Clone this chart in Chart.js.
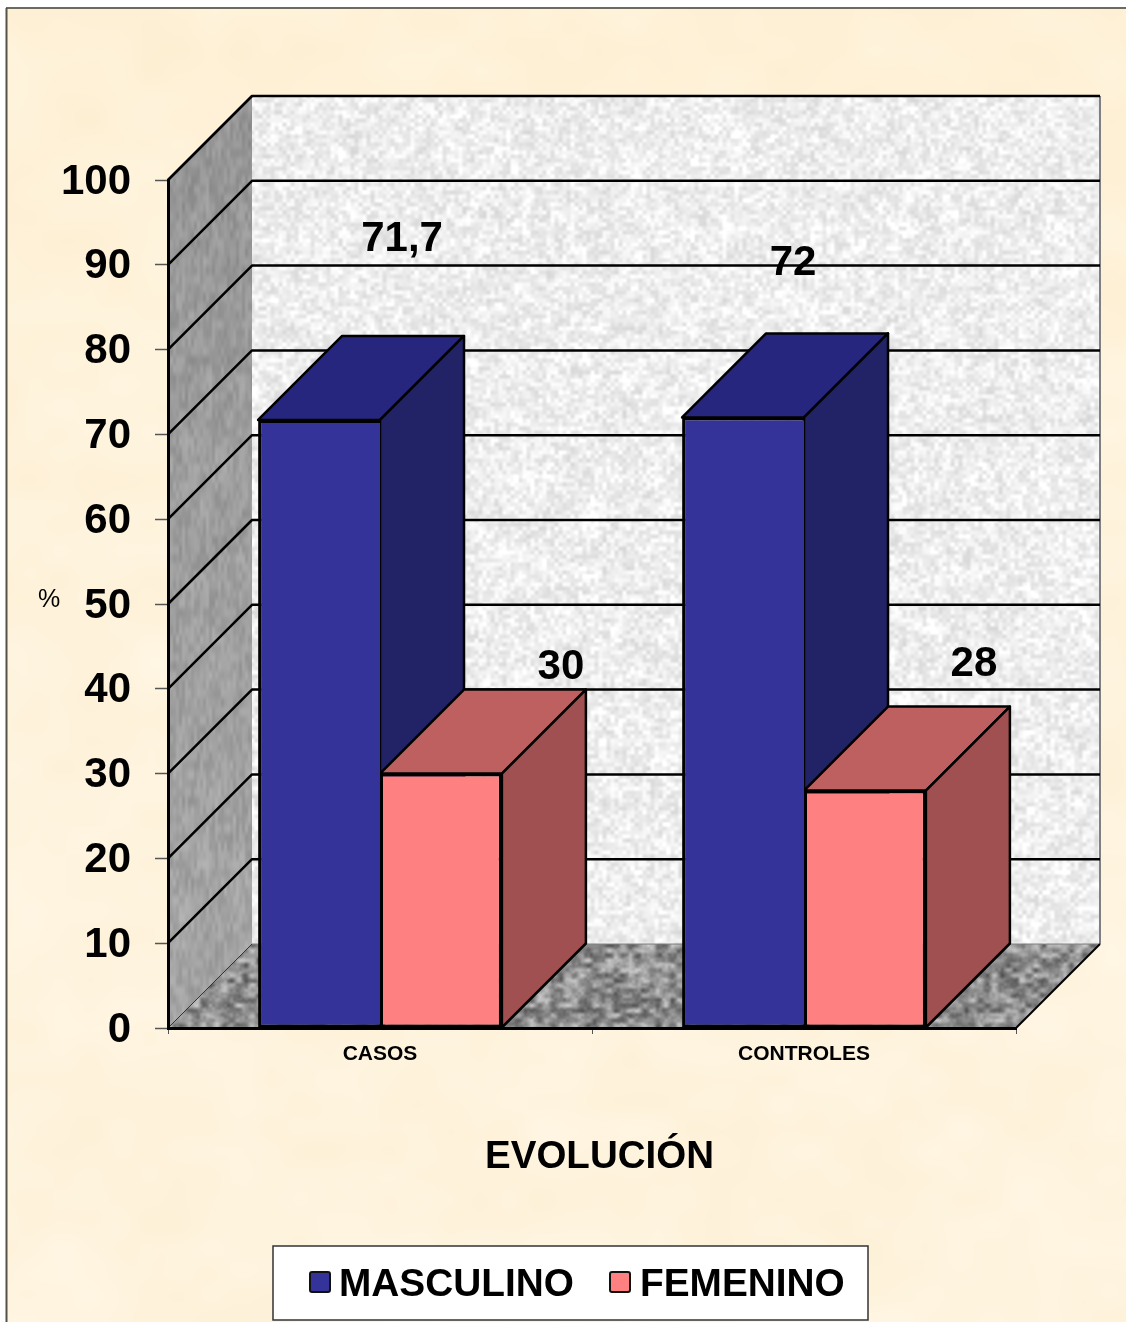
<!DOCTYPE html>
<html>
<head>
<meta charset="utf-8">
<title>Evolución</title>
<script src="https://cdn.jsdelivr.net/npm/chart.js@4"></script>
<style>
    html, body { margin: 0; padding: 0; background: #fff; }
    canvas { display: block; }
</style>
</head>
<body>
<canvas id="evolucionChart" width="1126" height="1322"></canvas>
<script>
const categories = ['CASOS', 'CONTROLES'];
const masculino = [71.7, 72];
const femenino = [30, 28];
const yTicks = [0, 10, 20, 30, 40, 50, 60, 70, 80, 90, 100];

const FONT = '"Liberation Sans", Arial, sans-serif';
const DEPTH = 84; // 3D offset of the back wall, in pixels

// Faces of each series: front, top, side
const maleColors = { front: '#333399', top: '#26267f', side: '#222266' };
const femaleColors = { front: '#ff8080', top: '#bf6060', side: '#a05050' };

// Where each value label sits relative to the top of its bar
const labelOffsets = [
    [{ x: 83, y: -181 }, { x: 50, y: -154 }],
    [{ x: 120, y: -106 }, { x: 109, y: -126 }]
];

// Small seeded generator, only used for the surface textures
let textureSeed = 20240;
function nextRandom() {
    textureSeed = (textureSeed * 1664525 + 1013904223) >>> 0;
    return textureSeed / 4294967296;
}

// Smooth value noise sampled on a grid of cw x ch pixel cells
function noiseLayer(w, h, cw, ch) {
    const cols = Math.ceil(w / cw) + 2;
    const rows = Math.ceil(h / ch) + 2;
    const grid = new Float32Array(cols * rows);
    for (let i = 0; i < grid.length; i++) grid[i] = nextRandom() * 2 - 1;
    const smooth = t => t * t * (3 - 2 * t);
    return (x, y) => {
        const gx = x / cw, gy = y / ch;
        const ix = Math.floor(gx), iy = Math.floor(gy);
        const fx = smooth(gx - ix), fy = smooth(gy - iy);
        const a = grid[iy * cols + ix], b = grid[iy * cols + ix + 1];
        const c = grid[(iy + 1) * cols + ix], d = grid[(iy + 1) * cols + ix + 1];
        return (a + (b - a) * fx) * (1 - fy) + (c + (d - c) * fx) * fy;
    };
}

// Builds an offscreen canvas; colorAt receives position and returns [r, g, b]
function makeTexture(w, h, colorAt) {
    const c = document.createElement('canvas');
    c.width = w;
    c.height = h;
    const tctx = c.getContext('2d');
    const img = tctx.createImageData(w, h);
    for (let y = 0; y < h; y++) {
        for (let x = 0; x < w; x++) {
            const rgb = colorAt(x, y);
            const p = (y * w + x) * 4;
            img.data[p] = rgb[0];
            img.data[p + 1] = rgb[1];
            img.data[p + 2] = rgb[2];
            img.data[p + 3] = 255;
        }
    }
    tctx.putImageData(img, 0, 0);
    return c;
}

function paperTexture(w, h) {
    const big = noiseLayer(w, h, 80, 60);
    const mid = noiseLayer(w, h, 30, 24);
    return makeTexture(w, h, (x, y) => {
        const n = big(x, y) * 0.6 + mid(x, y) * 0.4;
        const warm = Math.max(0, 1 - y / 700); // slightly deeper yellow towards the top
        return [254 + n, 243 + n * 3 - warm * 2, 221 + n * 7 - warm * 6];
    });
}

function backWallTexture(w, h) {
    const a = noiseLayer(w, h, 4, 4);
    const b = noiseLayer(w, h, 11, 10);
    return makeTexture(w, h, (x, y) => {
        const n = a(x, y) * 0.7 + b(x, y) * 0.3;
        const v = 238 + n * 25;
        return [v, v, v];
    });
}

function sideWallTexture(w, h) {
    const a = noiseLayer(w, h, 3, 9);
    const b = noiseLayer(w, h, 12, 20);
    return makeTexture(w, h, (x, y) => {
        const v = 148 + y / h * 22 + a(x, y) * 12 + b(x, y) * 6;
        return [v, v, v];
    });
}

function floorTexture(w, h) {
    const a = noiseLayer(w, h, 7, 5);
    const b = noiseLayer(w, h, 3, 3);
    return makeTexture(w, h, (x, y) => {
        const v = 142 + a(x, y) * 50 + b(x, y) * 14;
        return [v, v, v];
    });
}

function polygon(ctx, points) {
    ctx.beginPath();
    points.forEach((p, i) => i ? ctx.lineTo(p[0], p[1]) : ctx.moveTo(p[0], p[1]));
    ctx.closePath();
}

function fillClipped(ctx, points, image) {
    ctx.save();
    polygon(ctx, points);
    ctx.clip();
    ctx.drawImage(image, 0, 0);
    ctx.restore();
}

function line(ctx, x1, y1, x2, y2, color, width) {
    ctx.strokeStyle = color;
    ctx.lineWidth = width;
    ctx.beginPath();
    ctx.moveTo(x1, y1);
    ctx.lineTo(x2, y2);
    ctx.stroke();
}

const paperImage = paperTexture(1126, 1322);
const wallImage = backWallTexture(1126, 1322);
const sideImage = sideWallTexture(1126, 1322);
const floorImage = floorTexture(1126, 1322);

// Page background, walls, floor and gridlines
const roomPlugin = {
    id: 'room',
    beforeDraw(chart) {
        const { ctx, chartArea: { left, right, top, bottom }, scales: { y } } = chart;
        ctx.save();
        ctx.fillStyle = '#ffffff';
        ctx.fillRect(0, 0, chart.width, chart.height);
        ctx.drawImage(paperImage, 7, 9, chart.width - 7, chart.height - 9, 7, 9, chart.width - 7, chart.height - 9);
        line(ctx, 6, 8, chart.width, 8, '#6e6a60', 2);
        line(ctx, 6.5, 8, 6.5, chart.height, '#55524a', 2);

        const backTop = top - DEPTH, backBottom = bottom - DEPTH;
        const backLeft = left + DEPTH, backRight = right + DEPTH;
        fillClipped(ctx, [[backLeft, backTop], [backRight, backTop], [backRight, backBottom], [backLeft, backBottom]], wallImage);
        fillClipped(ctx, [[left, top], [backLeft, backTop], [backLeft, backBottom], [left, bottom]], sideImage);
        fillClipped(ctx, [[left, bottom], [backLeft, backBottom], [backRight, backBottom], [right, bottom]], floorImage);

        line(ctx, backRight, backTop, backRight, backBottom, '#808080', 2);
        line(ctx, backLeft, backBottom, backRight, backBottom, '#808080', 1);
        line(ctx, left, bottom, backLeft, backBottom, '#333333', 1);
        line(ctx, right, bottom, backRight, backBottom, '#000000', 2);
        line(ctx, left, top, backLeft, backTop, '#222222', 2);

        yTicks.filter(v => v > 0).forEach(v => {
            const py = y.getPixelForValue(v);
            ctx.lineJoin = 'round';
            ctx.strokeStyle = '#000000';
            ctx.lineWidth = 2.5;
            ctx.beginPath();
            ctx.moveTo(left, py);
            ctx.lineTo(backLeft, py - DEPTH);
            ctx.lineTo(backRight, py - DEPTH);
            ctx.stroke();
        });
        ctx.restore();
    },
    // Top and side faces go under the flat bars that Chart.js draws
    beforeDatasetsDraw(chart) {
        const { ctx } = chart;
        ctx.save();
        ctx.lineWidth = 2.5;
        ctx.strokeStyle = '#000000';
        ctx.lineJoin = 'round';
        chart.data.datasets.forEach((ds, i) => {
            chart.getDatasetMeta(i).data.forEach(bar => {
                const x1 = bar.x - bar.width / 2, x2 = bar.x + bar.width / 2;
                polygon(ctx, [[x1, bar.y], [x1 + DEPTH, bar.y - DEPTH], [x2 + DEPTH, bar.y - DEPTH], [x2, bar.y]]);
                ctx.fillStyle = ds.faces.top;
                ctx.fill();
                ctx.stroke();
                polygon(ctx, [[x2, bar.y], [x2 + DEPTH, bar.y - DEPTH], [x2 + DEPTH, bar.base - DEPTH], [x2, bar.base]]);
                ctx.fillStyle = ds.faces.side;
                ctx.fill();
                ctx.stroke();
            });
        });
        ctx.restore();
    },
    afterDatasetsDraw(chart) {
        const { ctx } = chart;
        ctx.save();
        ctx.fillStyle = '#000000';
        ctx.font = 'bold 42px ' + FONT;
        ctx.textAlign = 'center';
        ctx.textBaseline = 'middle';
        chart.data.datasets.forEach((ds, i) => {
            chart.getDatasetMeta(i).data.forEach((bar, j) => {
                const off = labelOffsets[i][j];
                ctx.fillText(String(ds.data[j]).replace('.', ','), bar.x + off.x, bar.y + off.y);
            });
        });
        ctx.restore();
    }
};

// Axis captions and the boxed legend
const captionsPlugin = {
    id: 'captions',
    afterDraw(chart) {
        const { ctx } = chart;
        ctx.save();
        ctx.fillStyle = '#000000';
        ctx.textBaseline = 'middle';
        ctx.textAlign = 'center';
        ctx.font = '25px ' + FONT;
        ctx.fillText('%', 49, 600);
        ctx.font = 'bold 38.5px ' + FONT;
        ctx.fillText('EVOLUCIÓN', 599.5, 1157);

        ctx.fillStyle = '#ffffff';
        ctx.fillRect(273, 1246, 595, 74);
        ctx.strokeStyle = '#333333';
        ctx.lineWidth = 1.5;
        ctx.strokeRect(273, 1246, 595, 74);

        const entries = [{ box: 310, text: 339 }, { box: 610, text: 640 }];
        ctx.textAlign = 'left';
        ctx.font = 'bold 38.8px ' + FONT;
        chart.data.datasets.forEach((ds, i) => {
            ctx.fillStyle = ds.faces.front;
            ctx.strokeStyle = '#111111';
            ctx.lineWidth = 2;
            ctx.beginPath();
            ctx.roundRect(entries[i].box, 1272, 20, 20, 2);
            ctx.fill();
            ctx.stroke();
            ctx.fillStyle = '#000000';
            ctx.fillText(ds.label, entries[i].text, 1285);
        });
        ctx.restore();
    }
};

new Chart(document.getElementById('evolucionChart').getContext('2d'), {
    type: 'bar',
    data: {
        labels: categories,
        datasets: [
            {
                label: 'MASCULINO',
                data: masculino,
                faces: maleColors,
                backgroundColor: maleColors.front,
                borderColor: '#000000',
                borderWidth: 3,
                borderSkipped: 'right' // the shared edge comes from the neighbouring bar
            },
            {
                label: 'FEMENINO',
                data: femenino,
                faces: femaleColors,
                backgroundColor: femaleColors.front,
                borderColor: '#000000',
                borderWidth: 3,
                borderSkipped: false
            }
        ]
    },
    options: {
        responsive: false,
        animation: false,
        devicePixelRatio: 1,
        layout: { padding: { left: 0, right: 110, top: 180, bottom: 0 } },
        datasets: { bar: { categoryPercentage: 0.575, barPercentage: 1 } },
        plugins: {
            legend: { display: false },
            tooltip: { enabled: false }
        },
        scales: {
            x: {
                afterFit: scale => { scale.height = 294; },
                grid: { drawOnChartArea: false, drawTicks: true, tickLength: 6, tickColor: '#555555', tickWidth: 1 },
                border: { display: true, color: '#000000', width: 3 },
                ticks: {
                    color: '#000000',
                    padding: 8,
                    maxRotation: 0,
                    font: { family: FONT, size: 21, weight: 'bold' }
                }
            },
            y: {
                min: 0,
                max: 100,
                afterFit: scale => { scale.width = 168; },
                afterBuildTicks: scale => { scale.ticks = yTicks.map(value => ({ value })); },
                grid: { drawOnChartArea: false, drawTicks: true, tickLength: 13, tickColor: '#555555', tickWidth: 1.5 },
                border: { display: true, color: '#000000', width: 3 },
                ticks: {
                    color: '#000000',
                    padding: 24,
                    labelOffset: 2,
                    font: { family: FONT, size: 42, weight: 'bold' }
                }
            }
        }
    },
    plugins: [roomPlugin, captionsPlugin]
});
</script>
</body>
</html>
